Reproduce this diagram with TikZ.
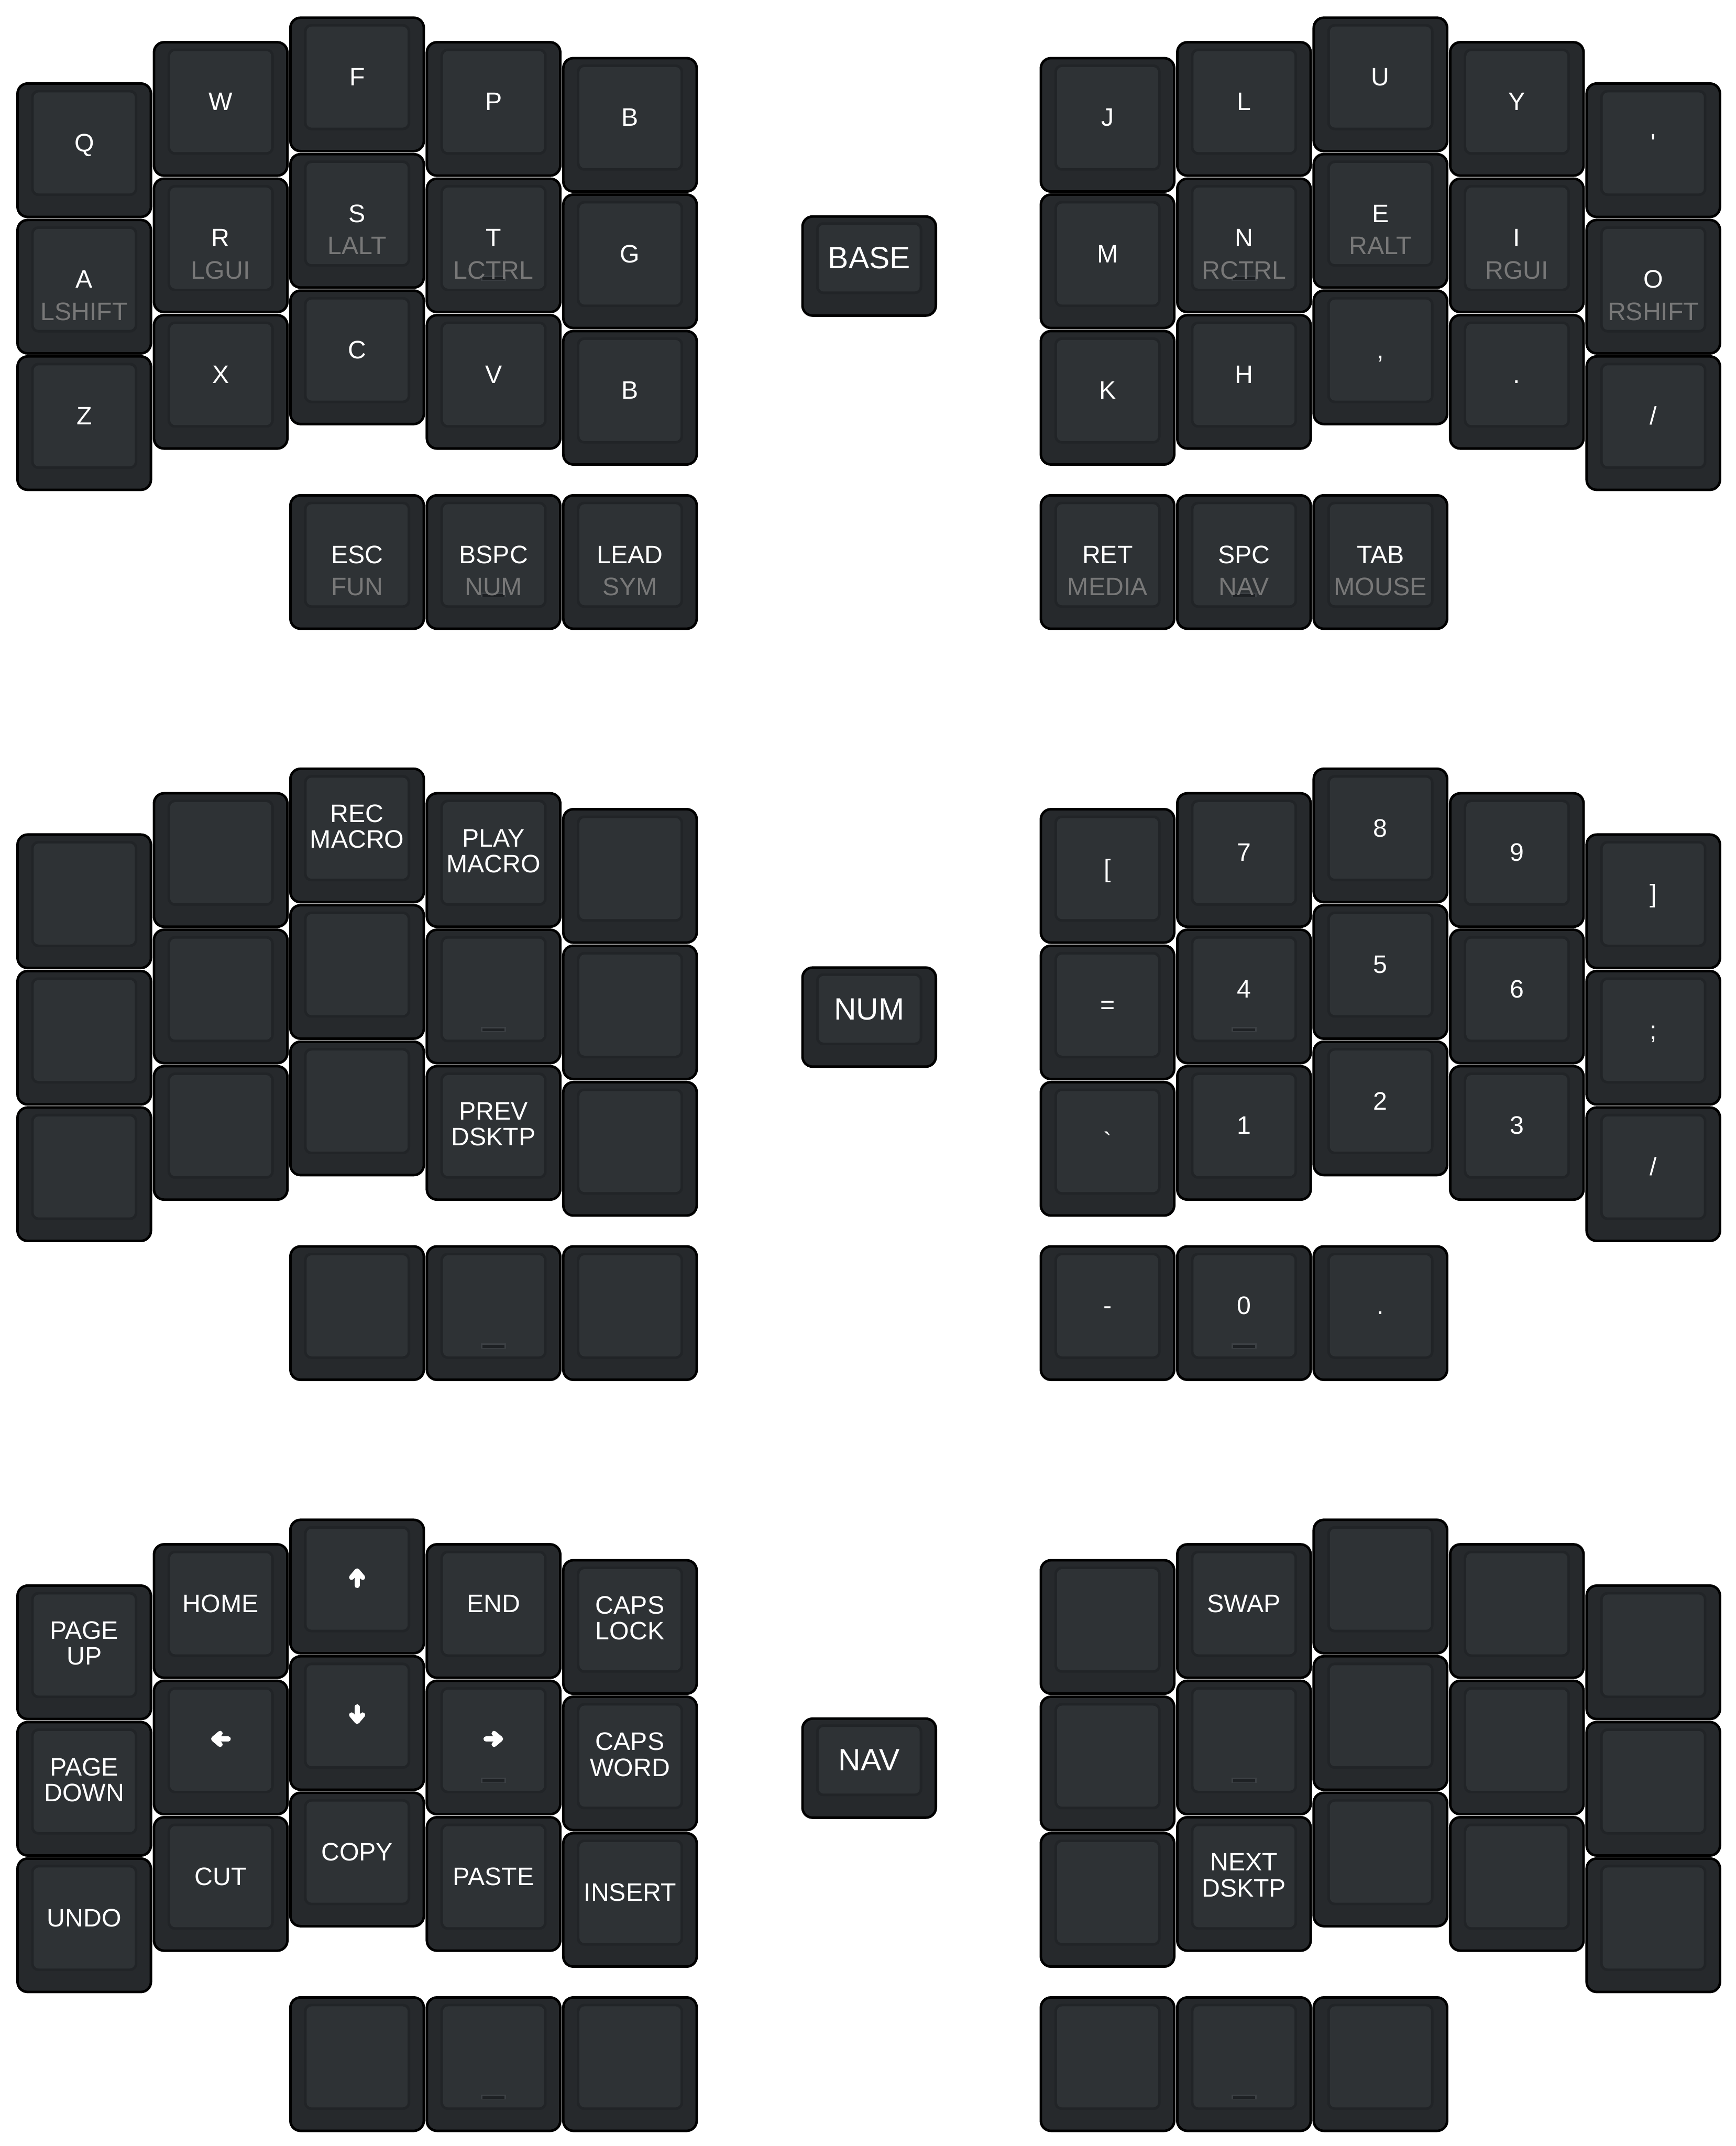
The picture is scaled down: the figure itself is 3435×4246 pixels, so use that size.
\documentclass[tikz,border=0pt]{standalone}
\usepackage{fontspec}
\newfontfamily\kf{Liberation Sans}
\definecolor{kbody}{HTML}{26292C}
\definecolor{kring}{HTML}{212427}
\definecolor{ksurf}{HTML}{2E3235}
\definecolor{khold}{HTML}{787878}
\definecolor{khomeA}{HTML}{3C4044}
\definecolor{khomeB}{HTML}{1E2124}
\tikzset{
 keybody/.style={rectangle, rounded corners=20pt, minimum width=264pt, minimum height=264pt, inner sep=0pt, draw=black, line width=5pt, fill=kbody},
 lblbody/.style={keybody, minimum height=196pt},
 tapt/.style={anchor=base, inner sep=0pt, text=white, font=\kf\fontsize{50}{52}\selectfont},
 holdt/.style={tapt, text=khold},
 lblt/.style={tapt, font=\kf\fontsize{61}{63}\selectfont},
 arrowln/.style={draw=white, line width=10pt, line cap=round, line join=round},
}
\newcommand\K[4]{%
 \pgfmathsetmacro\kx{{166.7,436.7,706.7,976.7,1246.7,2191.7,2461.7,2731.7,3001.7,3271.7}[#2]}%
 \ifnum#3=3
  \pgfmathsetmacro\ky{1112+1486*#4}%
 \else
  \pgfmathsetmacro\ky{{297.2,215.5,167,215.5,247,247,215.5,167,215.5,297.2}[#2]+270*#3+1486*#4}%
 \fi
 \node[keybody] (#1) at (\kx,\ky) {};
 \fill[kring, rounded corners=14pt] ([shift={(-105,-119.4)}]#1.center) rectangle ([shift={(105,90.6)}]#1.center);
 \fill[ksurf, rounded corners=10pt] ([shift={(-100,-114.4)}]#1.center) rectangle ([shift={(100,85.6)}]#1.center);
}
\newcommand\kT[2]{\node[tapt] (#1-t) at ([shift={(0,2.6)}]#1.center) {#2};}
\newcommand\kH[2]{\node[holdt] (#1-h) at ([shift={(0,66.6)}]#1.center) {#2};}
\newcommand\kTwo[3]{\node[tapt] (#1-a) at ([shift={(0,-25.9)}]#1.center) {#2};\node[tapt] (#1-b) at ([shift={(0,25.1)}]#1.center) {#3};}
\newcommand\kHome[1]{\fill[khomeA] ([shift={(-25,60)}]#1.center) rectangle ([shift={(25,70)}]#1.center);\fill[khomeB] ([shift={(-22,63)}]#1.center) rectangle ([shift={(22,69)}]#1.center);}
\newcommand\kArr[2]{\begin{scope}[shift={(#1.center)}, shift={(0,-17)}, rotate=#2]
 \draw[arrowln] (0,15) -- (0,-13); \draw[arrowln] (-11,-1) -- (0,-14) -- (11,-1);
\end{scope}}
\newcommand\kLbl[3]{%
 \node[lblbody] (#1) at (1720,#2) {};
 \fill[kring, rounded corners=14pt] ([shift={(-105,-86.6)}]#1.center) rectangle ([shift={(105,55.4)}]#1.center);
 \fill[ksurf, rounded corners=10pt] ([shift={(-100,-81.6)}]#1.center) rectangle ([shift={(100,50.4)}]#1.center);
 \node[lblt] (#1-t) at ([shift={(0,4.9)}]#1.center) {#3};}
\begin{document}
\begin{tikzpicture}[x=1pt,y=-1pt]
\fill[white] (0,0) rectangle (3435,4246);
\useasboundingbox (0,0) rectangle (3435,4246);
% ================= BASE
\K{b00}{0}{0}{0}\kT{b00}{Q}
\K{b10}{1}{0}{0}\kT{b10}{W}
\K{b20}{2}{0}{0}\kT{b20}{F}
\K{b30}{3}{0}{0}\kT{b30}{P}
\K{b40}{4}{0}{0}\kT{b40}{B}
\K{b01}{0}{1}{0}\kT{b01}{A}\kH{b01}{LSHIFT}
\K{b11}{1}{1}{0}\kT{b11}{R}\kH{b11}{LGUI}
\K{b21}{2}{1}{0}\kT{b21}{S}\kH{b21}{LALT}
\K{b31}{3}{1}{0}\kHome{b31}\kT{b31}{T}\kH{b31}{LCTRL}
\K{b41}{4}{1}{0}\kT{b41}{G}
\K{b02}{0}{2}{0}\kT{b02}{Z}
\K{b12}{1}{2}{0}\kT{b12}{X}
\K{b22}{2}{2}{0}\kT{b22}{C}
\K{b32}{3}{2}{0}\kT{b32}{V}
\K{b42}{4}{2}{0}\kT{b42}{B}
\K{b23}{2}{3}{0}\kT{b23}{ESC}\kH{b23}{FUN}
\K{b33}{3}{3}{0}\kHome{b33}\kT{b33}{BSPC}\kH{b33}{NUM}
\K{b43}{4}{3}{0}\kT{b43}{LEAD}\kH{b43}{SYM}
\K{b50}{5}{0}{0}\kT{b50}{J}
\K{b60}{6}{0}{0}\kT{b60}{L}
\K{b70}{7}{0}{0}\kT{b70}{U}
\K{b80}{8}{0}{0}\kT{b80}{Y}
\K{b90}{9}{0}{0}\kT{b90}{'}
\K{b51}{5}{1}{0}\kT{b51}{M}
\K{b61}{6}{1}{0}\kHome{b61}\kT{b61}{N}\kH{b61}{RCTRL}
\K{b71}{7}{1}{0}\kT{b71}{E}\kH{b71}{RALT}
\K{b81}{8}{1}{0}\kT{b81}{I}\kH{b81}{RGUI}
\K{b91}{9}{1}{0}\kT{b91}{O}\kH{b91}{RSHIFT}
\K{b52}{5}{2}{0}\kT{b52}{K}
\K{b62}{6}{2}{0}\kT{b62}{H}
\K{b72}{7}{2}{0}\kT{b72}{,}
\K{b82}{8}{2}{0}\kT{b82}{.}
\K{b92}{9}{2}{0}\kT{b92}{/}
\K{b53}{5}{3}{0}\kT{b53}{RET}\kH{b53}{MEDIA}
\K{b63}{6}{3}{0}\kHome{b63}\kT{b63}{SPC}\kH{b63}{NAV}
\K{b73}{7}{3}{0}\kT{b73}{TAB}\kH{b73}{MOUSE}
\kLbl{base}{526.4}{BASE}
% ================= NUM
\K{n00}{0}{0}{1}
\K{n10}{1}{0}{1}
\K{n20}{2}{0}{1}\kTwo{n20}{REC}{MACRO}
\K{n30}{3}{0}{1}\kTwo{n30}{PLAY}{MACRO}
\K{n40}{4}{0}{1}
\K{n01}{0}{1}{1}
\K{n11}{1}{1}{1}
\K{n21}{2}{1}{1}
\K{n31}{3}{1}{1}\kHome{n31}
\K{n41}{4}{1}{1}
\K{n02}{0}{2}{1}
\K{n12}{1}{2}{1}
\K{n22}{2}{2}{1}
\K{n32}{3}{2}{1}\kTwo{n32}{PREV}{DSKTP}
\K{n42}{4}{2}{1}
\K{n23}{2}{3}{1}
\K{n33}{3}{3}{1}\kHome{n33}
\K{n43}{4}{3}{1}
\K{n50}{5}{0}{1}\kT{n50}{[}
\K{n60}{6}{0}{1}\kT{n60}{7}
\K{n70}{7}{0}{1}\kT{n70}{8}
\K{n80}{8}{0}{1}\kT{n80}{9}
\K{n90}{9}{0}{1}\kT{n90}{]}
\K{n51}{5}{1}{1}\kT{n51}{=}
\K{n61}{6}{1}{1}\kHome{n61}\kT{n61}{4}
\K{n71}{7}{1}{1}\kT{n71}{5}
\K{n81}{8}{1}{1}\kT{n81}{6}
\K{n91}{9}{1}{1}\kT{n91}{;}
\K{n52}{5}{2}{1}\kT{n52}{`}
\K{n62}{6}{2}{1}\kT{n62}{1}
\K{n72}{7}{2}{1}\kT{n72}{2}
\K{n82}{8}{2}{1}\kT{n82}{3}
\K{n92}{9}{2}{1}\kT{n92}{/}
\K{n53}{5}{3}{1}\kT{n53}{-}
\K{n63}{6}{3}{1}\kHome{n63}\kT{n63}{0}
\K{n73}{7}{3}{1}\kT{n73}{.}
\kLbl{num}{2012.4}{NUM}
% ================= NAV
\K{v00}{0}{0}{2}\kTwo{v00}{PAGE}{UP}
\K{v10}{1}{0}{2}\kT{v10}{HOME}
\K{v20}{2}{0}{2}\kArr{v20}{0}
\K{v30}{3}{0}{2}\kT{v30}{END}
\K{v40}{4}{0}{2}\kTwo{v40}{CAPS}{LOCK}
\K{v01}{0}{1}{2}\kTwo{v01}{PAGE}{DOWN}
\K{v11}{1}{1}{2}\kArr{v11}{90}
\K{v21}{2}{1}{2}\kArr{v21}{180}
\K{v31}{3}{1}{2}\kHome{v31}\kArr{v31}{-90}
\K{v41}{4}{1}{2}\kTwo{v41}{CAPS}{WORD}
\K{v02}{0}{2}{2}\kT{v02}{UNDO}
\K{v12}{1}{2}{2}\kT{v12}{CUT}
\K{v22}{2}{2}{2}\kT{v22}{COPY}
\K{v32}{3}{2}{2}\kT{v32}{PASTE}
\K{v42}{4}{2}{2}\kT{v42}{INSERT}
\K{v23}{2}{3}{2}
\K{v33}{3}{3}{2}\kHome{v33}
\K{v43}{4}{3}{2}
\K{v50}{5}{0}{2}
\K{v60}{6}{0}{2}\kT{v60}{SWAP}
\K{v70}{7}{0}{2}
\K{v80}{8}{0}{2}
\K{v90}{9}{0}{2}
\K{v51}{5}{1}{2}
\K{v61}{6}{1}{2}\kHome{v61}
\K{v71}{7}{1}{2}
\K{v81}{8}{1}{2}
\K{v91}{9}{1}{2}
\K{v52}{5}{2}{2}
\K{v62}{6}{2}{2}\kTwo{v62}{NEXT}{DSKTP}
\K{v72}{7}{2}{2}
\K{v82}{8}{2}{2}
\K{v92}{9}{2}{2}
\K{v53}{5}{3}{2}
\K{v63}{6}{3}{2}\kHome{v63}
\K{v73}{7}{3}{2}
\kLbl{nav}{3498.4}{NAV}
\end{tikzpicture}
\end{document}
